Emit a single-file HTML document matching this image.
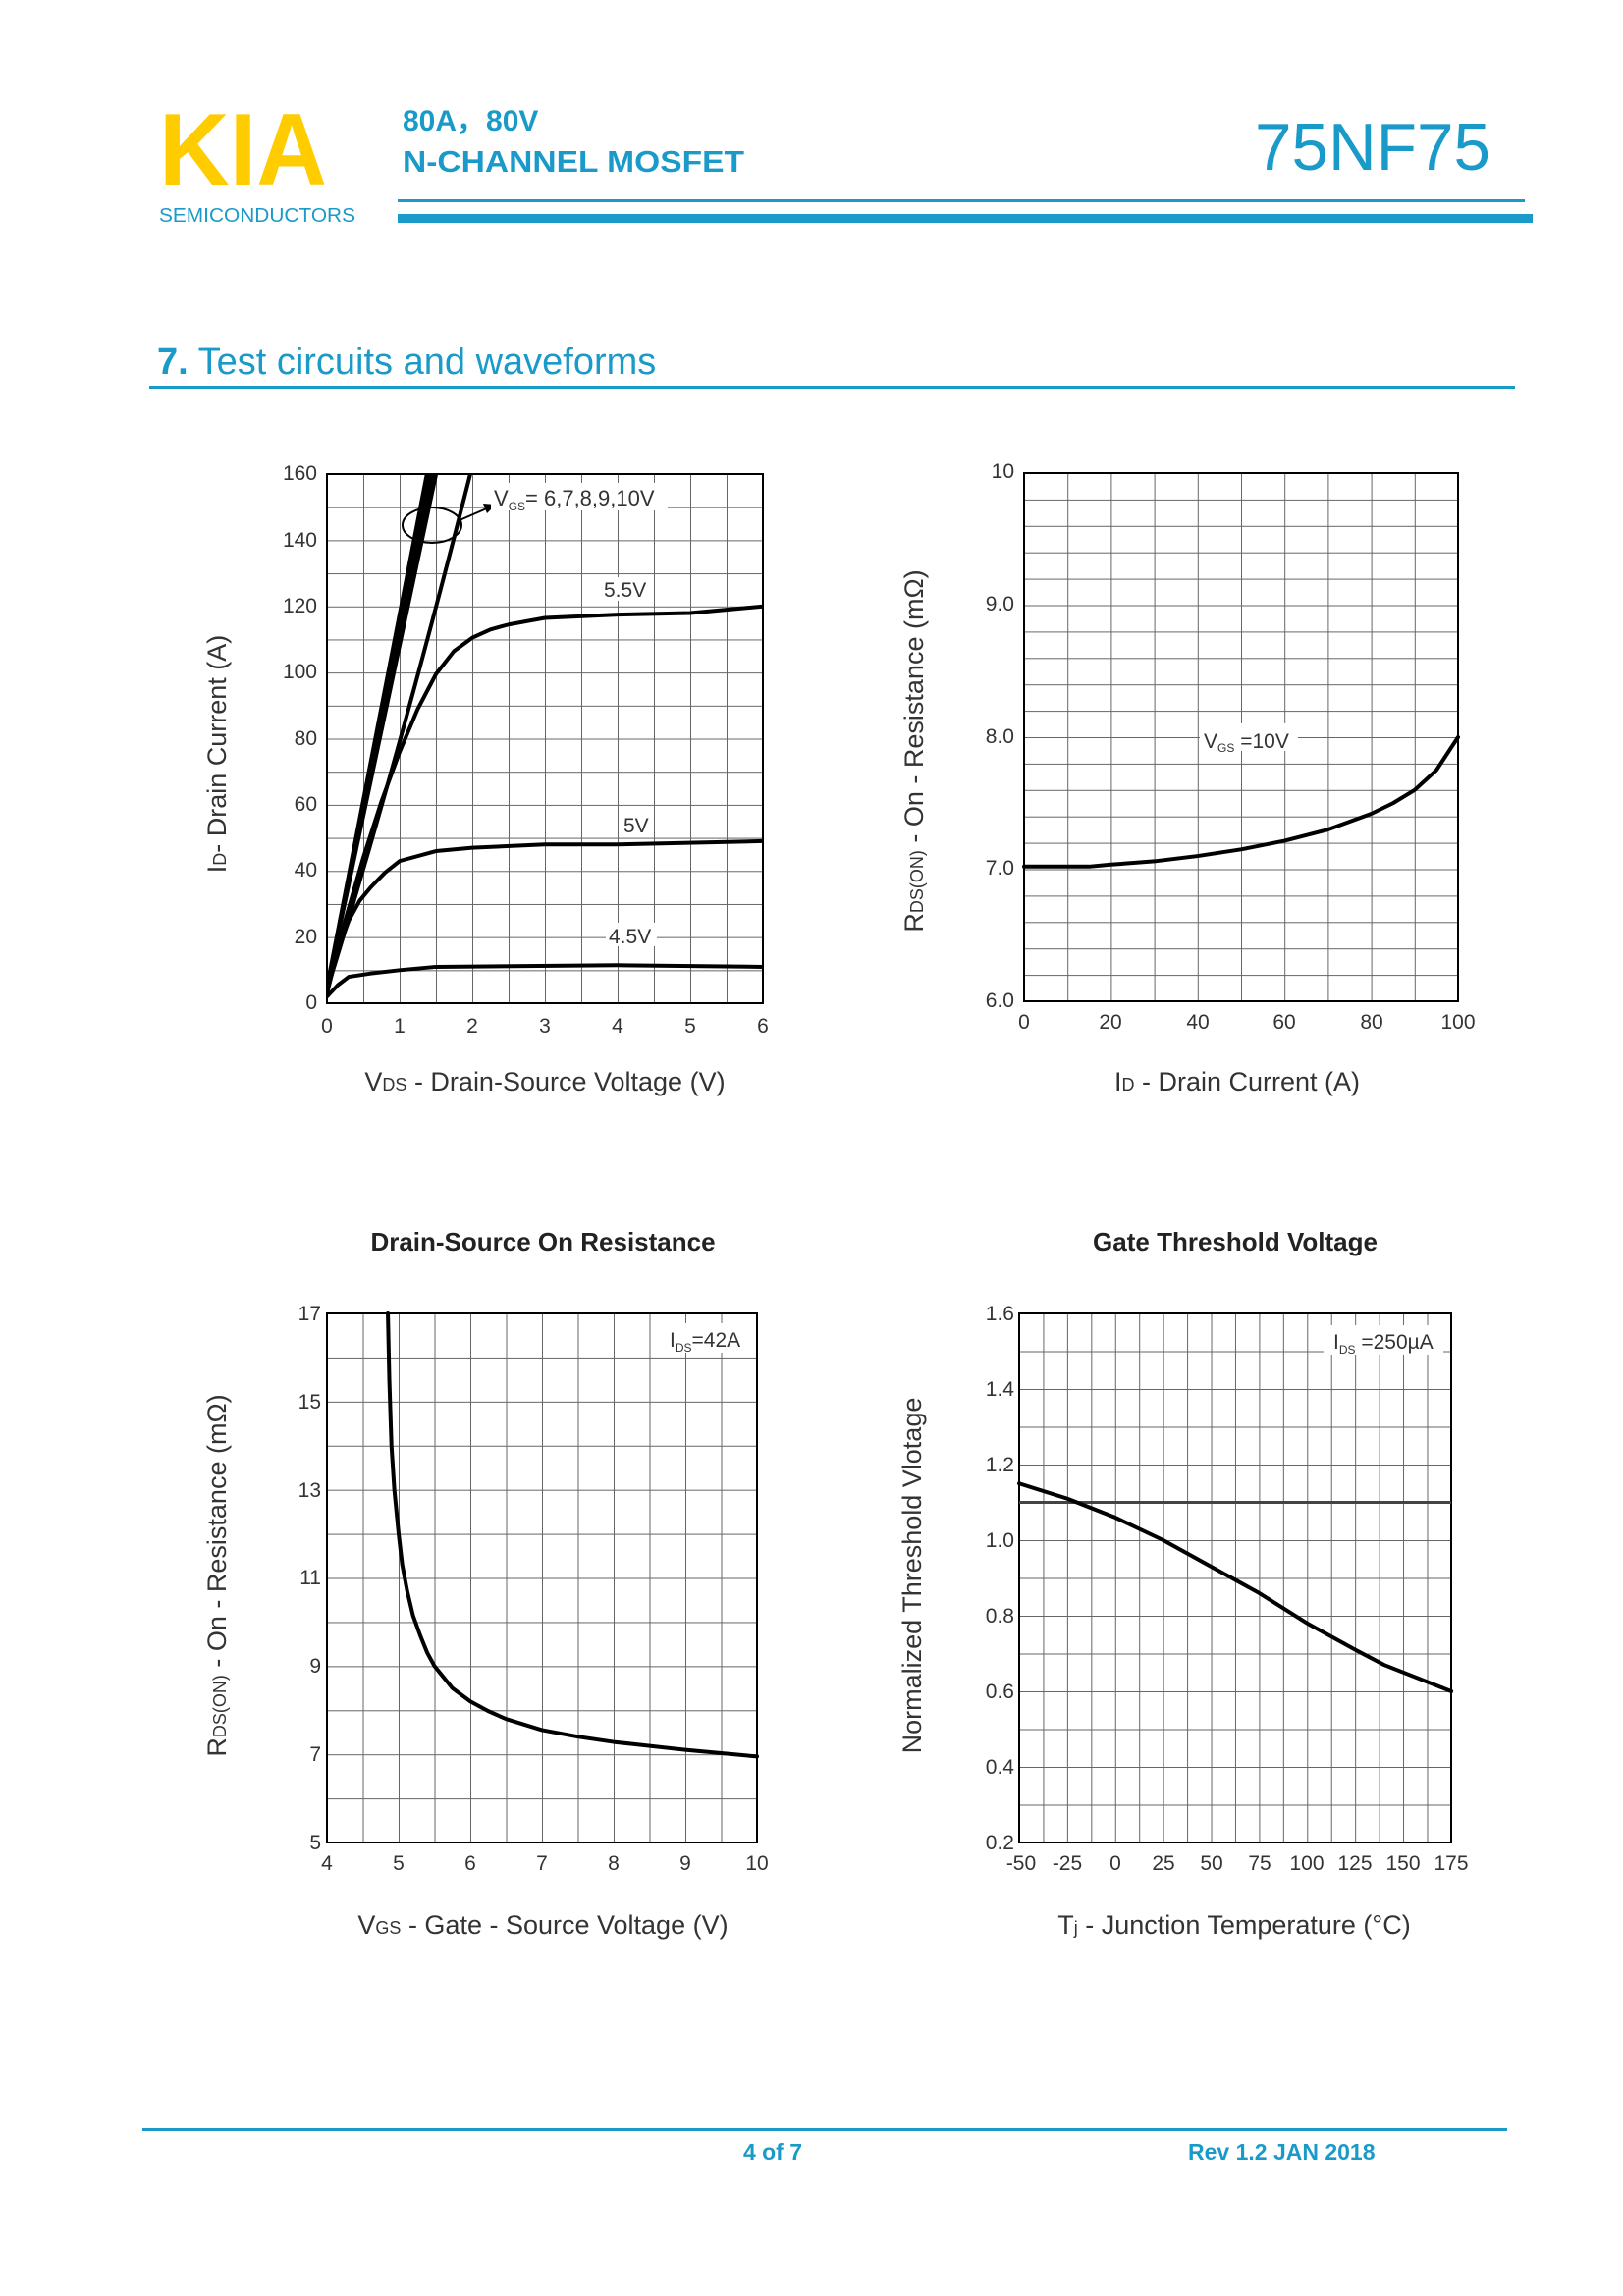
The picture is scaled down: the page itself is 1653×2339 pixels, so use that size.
<!DOCTYPE html>
<html><head><meta charset="utf-8"><style>
html,body{margin:0;padding:0;background:#fff}
svg{display:block;font-family:"Liberation Sans",Arial,sans-serif}
.t{font-size:21px;fill:#333}
.at{font-size:27px;fill:#333}
.c{fill:none;stroke:#000;stroke-width:4;vector-effect:non-scaling-stroke;stroke-linejoin:round;stroke-linecap:round}
.b{fill:#1a9ac9}
</style></head><body>
<svg width="1653" height="2339" viewBox="0 0 1653 2339" xmlns="http://www.w3.org/2000/svg">
<defs>
<pattern id="g1" patternUnits="userSpaceOnUse" x="333" y="483" width="37" height="33.69"><path d="M0 0V33.69M0 0H37" stroke="#666" stroke-width="2" fill="none"/></pattern>
<pattern id="g2" patternUnits="userSpaceOnUse" x="1043" y="482" width="44.2" height="26.9"><path d="M0 0V26.9M0 0H44.2" stroke="#666" stroke-width="2" fill="none"/></pattern>
<pattern id="g3" patternUnits="userSpaceOnUse" x="333" y="1338" width="36.5" height="44.92"><path d="M0 0V44.92M0 0H36.5" stroke="#666" stroke-width="2" fill="none"/></pattern>
<pattern id="g4" patternUnits="userSpaceOnUse" x="1038" y="1338" width="24.44" height="38.5"><path d="M0 0V38.5M0 0H24.44" stroke="#666" stroke-width="2" fill="none"/></pattern>
<clipPath id="k1"><rect x="333" y="483" width="444" height="539"/></clipPath>
</defs>

<!-- header -->
<text x="162" y="188" font-size="104" font-weight="bold" fill="#ffcc00" textLength="171" lengthAdjust="spacingAndGlyphs">KIA</text>
<text x="162" y="226" font-size="20" class="b" textLength="200" lengthAdjust="spacingAndGlyphs">SEMICONDUCTORS</text>
<text x="410" y="133" font-size="30" font-weight="bold" class="b">80A，80V</text>
<text x="410" y="175" font-size="31" font-weight="bold" class="b" textLength="348" lengthAdjust="spacingAndGlyphs">N-CHANNEL MOSFET</text>
<text x="1278" y="173" font-size="68" class="b" textLength="240" lengthAdjust="spacingAndGlyphs">75NF75</text>
<rect x="405" y="203" width="1148" height="3" class="b"/>
<rect x="405" y="218" width="1156" height="9" class="b"/>

<text x="160" y="381" font-size="38" class="b"><tspan font-weight="bold">7.</tspan> Test circuits and waveforms</text>
<rect x="152" y="393" width="1391" height="3" class="b"/>

<!-- chart 1 -->
<rect x="333" y="483" width="444" height="539" fill="url(#g1)"/>
<rect x="333" y="483" width="444" height="539" fill="none" stroke="#000" stroke-width="2"/>
<g clip-path="url(#k1)">
<g transform="translate(333,1022) scale(74,-3.369)">
<path class="c" d="M0 5L1.42 165M0 5L1.46 165M0 5L1.50 165M0 5L1.55 165M0 4Q1.0 75 2.03 165"/>
<path class="c" d="M0 3L0.25 25L0.5 44L0.75 61L1 76L1.25 89L1.5 99.5L1.75 106.5L2 110.5L2.25 113L2.5 114.5L3 116.5L4 117.5L5 118L6 120"/>
<path class="c" d="M0 3L0.15 16L0.3 25L0.45 31L0.6 35L0.8 39.5L1 43L1.5 46L2 47L3 48L4 48L6 49"/>
<path class="c" d="M0 2L0.15 5.5L0.3 8L0.6 9L1 10L1.5 11L4 11.5L6 11"/>
</g>
</g>
<ellipse cx="440" cy="535" rx="30" ry="18" fill="none" stroke="#000" stroke-width="2"/>
<path d="M468 530L498 517" stroke="#000" stroke-width="2"/><path d="M505 514L492 513L496 523Z"/>
<rect x="500" y="492" width="180" height="28" fill="#fff"/>
<text x="503" y="515" font-size="22" fill="#333">V<tspan font-size="12" dy="5">GS</tspan><tspan dy="-5">= 6,7,8,9,10V</tspan></text>
<rect x="612" y="588" width="52" height="24" fill="#fff"/><text x="615" y="608" font-size="21" fill="#333">5.5V</text>
<rect x="632" y="827" width="34" height="24" fill="#fff"/><text x="635" y="848" font-size="21" fill="#333">5V</text>
<rect x="617" y="940" width="52" height="24" fill="#fff"/><text x="620" y="961" font-size="21" fill="#333">4.5V</text>
<g class="t" text-anchor="end">
<text x="323" y="489">160</text><text x="323" y="557">140</text><text x="323" y="624">120</text><text x="323" y="691">100</text><text x="323" y="759">80</text><text x="323" y="826">60</text><text x="323" y="893">40</text><text x="323" y="961">20</text><text x="323" y="1028">0</text>
</g>
<g class="t" text-anchor="middle">
<text x="333" y="1052">0</text><text x="407" y="1052">1</text><text x="481" y="1052">2</text><text x="555" y="1052">3</text><text x="629" y="1052">4</text><text x="703" y="1052">5</text><text x="777" y="1052">6</text>
</g>
<text class="at" transform="translate(230,768) rotate(-90)" text-anchor="middle">I<tspan font-size="18">D</tspan>- Drain Current (A)</text>
<text class="at" x="555" y="1111" text-anchor="middle">V<tspan font-size="18">DS</tspan> - Drain-Source Voltage (V)</text>

<!-- chart 2 -->
<rect x="1043" y="482" width="442" height="538" fill="url(#g2)"/>
<rect x="1043" y="482" width="442" height="538" fill="none" stroke="#000" stroke-width="2"/>
<rect x="1222" y="737" width="100" height="28" fill="#fff"/>
<text x="1226" y="762" font-size="21" fill="#333">V<tspan font-size="12" dy="4">GS</tspan><tspan dy="-4"> =10V</tspan></text>
<g transform="translate(1043,1020) scale(4.42,-134.5)">
<path class="c" d="M0 1.02L15 1.02L20 1.035L30 1.06L40 1.1L50 1.15L60 1.215L70 1.3L80 1.42L85 1.5L90 1.6L95 1.75L100 2.0"/>
</g>
<g class="t" text-anchor="end">
<text x="1033" y="487">10</text><text x="1033" y="622">9.0</text><text x="1033" y="757">8.0</text><text x="1033" y="891">7.0</text><text x="1033" y="1026">6.0</text>
</g>
<g class="t" text-anchor="middle">
<text x="1043" y="1048">0</text><text x="1131" y="1048">20</text><text x="1220" y="1048">40</text><text x="1308" y="1048">60</text><text x="1397" y="1048">80</text><text x="1485" y="1048">100</text>
</g>
<text class="at" transform="translate(940,765) rotate(-90)" text-anchor="middle">R<tspan font-size="18">DS(ON)</tspan> - On - Resistance (mΩ)</text>
<text class="at" x="1260" y="1111" text-anchor="middle">I<tspan font-size="18">D</tspan> - Drain Current (A)</text>

<!-- chart 3 -->
<text x="553" y="1274" text-anchor="middle" font-size="26" font-weight="bold" fill="#222">Drain-Source On Resistance</text>
<rect x="333" y="1338" width="438" height="539" fill="url(#g3)"/>
<rect x="333" y="1338" width="438" height="539" fill="none" stroke="#000" stroke-width="2"/>
<rect x="675" y="1348" width="88" height="30" fill="#fff"/>
<text x="682" y="1372" font-size="21" fill="#333">I<tspan font-size="12" dy="5">DS</tspan><tspan dy="-5">=42A</tspan></text>
<g transform="translate(333,1877) scale(73,-44.92)">
<path class="c" d="M0.85 12L0.87 10.5L0.9 9L0.94 8L1 7L1.05 6.3L1.12 5.7L1.2 5.15L1.3 4.7L1.4 4.3L1.5 4L1.75 3.5L2 3.2L2.25 2.98L2.5 2.8L3 2.55L3.5 2.4L4 2.28L5 2.1L6 1.95"/>
</g>
<g class="t" text-anchor="end">
<text x="327" y="1345">17</text><text x="327" y="1435">15</text><text x="327" y="1525">13</text><text x="327" y="1614">11</text><text x="327" y="1704">9</text><text x="327" y="1794">7</text><text x="327" y="1884">5</text>
</g>
<g class="t" text-anchor="middle">
<text x="333" y="1905">4</text><text x="406" y="1905">5</text><text x="479" y="1905">6</text><text x="552" y="1905">7</text><text x="625" y="1905">8</text><text x="698" y="1905">9</text><text x="771" y="1905">10</text>
</g>
<text class="at" transform="translate(230,1605) rotate(-90)" text-anchor="middle">R<tspan font-size="18">DS(ON)</tspan> - On - Resistance (mΩ)</text>
<text class="at" x="553" y="1970" text-anchor="middle">V<tspan font-size="18">GS</tspan> - Gate - Source Voltage (V)</text>

<!-- chart 4 -->
<text x="1258" y="1274" text-anchor="middle" font-size="26" font-weight="bold" fill="#222">Gate Threshold Voltage</text>
<rect x="1038" y="1338" width="440" height="539" fill="url(#g4)"/>
<rect x="1038" y="1338" width="440" height="539" fill="none" stroke="#000" stroke-width="2"/>
<line x1="1038" y1="1530.5" x2="1478" y2="1530.5" stroke="#444" stroke-width="3"/>
<rect x="1348" y="1350" width="122" height="30" fill="#fff"/>
<text x="1358" y="1374" font-size="21" fill="#333">I<tspan font-size="12" dy="5">DS</tspan><tspan dy="-5"> =250µA</tspan></text>
<g transform="translate(1038,1877) scale(1.956,-385)">
<path class="c" d="M0 0.95L25 0.91L50 0.86L75 0.8L100 0.73L125 0.66L150 0.58L175 0.51L190 0.47L225 0.4"/>
</g>
<g class="t" text-anchor="end">
<text x="1033" y="1345">1.6</text><text x="1033" y="1422">1.4</text><text x="1033" y="1499">1.2</text><text x="1033" y="1576">1.0</text><text x="1033" y="1653">0.8</text><text x="1033" y="1730">0.6</text><text x="1033" y="1807">0.4</text><text x="1033" y="1884">0.2</text>
</g>
<g class="t" text-anchor="middle">
<text x="1040" y="1905">-50</text><text x="1087" y="1905">-25</text><text x="1136" y="1905">0</text><text x="1185" y="1905">25</text><text x="1234" y="1905">50</text><text x="1283" y="1905">75</text><text x="1331" y="1905">100</text><text x="1380" y="1905">125</text><text x="1429" y="1905">150</text><text x="1478" y="1905">175</text>
</g>
<text class="at" transform="translate(938,1605) rotate(-90)" text-anchor="middle">Normalized Threshold Vlotage</text>
<text class="at" x="1257" y="1970" text-anchor="middle">T<tspan font-size="18">j</tspan> - Junction Temperature (°C)</text>

<!-- footer -->
<rect x="145" y="2168" width="1390" height="3" class="b"/>
<text x="787" y="2200" text-anchor="middle" font-size="23" font-weight="bold" class="b">4 of 7</text>
<text x="1210" y="2200" font-size="23" font-weight="bold" class="b">Rev 1.2 JAN 2018</text>
</svg>
</body></html>
